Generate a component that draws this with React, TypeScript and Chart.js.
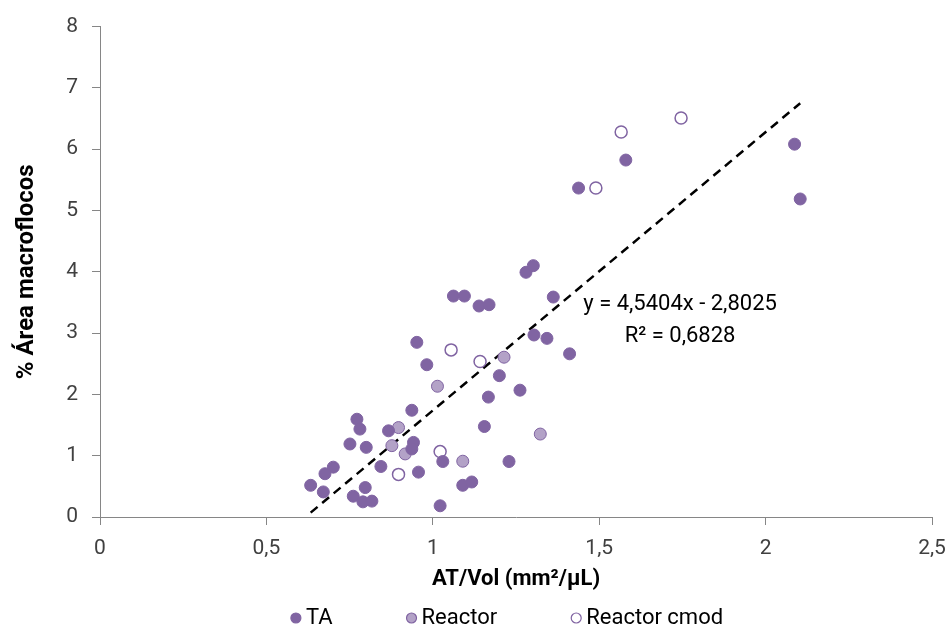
import React, { useEffect, useRef } from "react";
import { Chart, registerables } from "chart.js";
Chart.register(...registerables);

const taX = [1.062,1.095,1.139,1.169,1.362,1.304,1.343,1.411,0.952,0.982,1.200,1.262,1.167,0.937,0.772,0.781,1.155,0.867,0.751,0.800,0.942,0.937,1.030,1.229,0.701,0.676,0.844,0.957,0.633,0.671,0.797,0.761,0.790,0.817,1.090,1.117,1.022,1.280,1.302,1.438,1.580,2.087,2.104];
const taY = [3.604,3.604,3.442,3.463,3.588,2.969,2.914,2.662,2.849,2.484,2.306,2.069,1.956,1.741,1.595,1.434,1.476,1.406,1.191,1.136,1.217,1.110,0.905,0.905,0.813,0.706,0.824,0.732,0.517,0.409,0.480,0.339,0.247,0.259,0.517,0.571,0.183,3.992,4.100,5.366,5.823,6.082,5.188];
const reactorX = [1.214,1.014,0.897,1.323,0.877,0.917,1.090];
const reactorY = [2.607,2.133,1.459,1.353,1.164,1.029,0.910];
const cmodX = [1.055,1.142,1.022,0.897,1.566,1.746,1.490];
const cmodY = [2.726,2.537,1.067,0.695,6.282,6.508,5.366];
const trendSlope = 4.5404;
const trendIntercept = -2.8025;
const allX = [...taX, ...reactorX, ...cmodX];
const trendRange = [Math.min(...allX), Math.max(...allX)];
const seriesNames = ["TA", "Reactor", "Reactor cmod"];
const eqLabel = "y = 4,5404x - 2,8025";
const r2Label = "R² = 0,6828";

const FONT = "'Roboto', sans-serif";
const PURPLE = "#8064A2";
const LIGHT = "#B3A2C7";
const fills = [PURPLE, LIGHT, "#FFFFFF"];

const toPts = (xs: number[], ys: number[]) => xs.map((x, i) => ({ x, y: ys[i] }));

export default function App() {
  const ref = useRef<HTMLCanvasElement>(null);
  useEffect(() => {
    document.body.style.margin = "0";
    const eqPlugin = {
      id: "eq",
      afterDatasetsDraw(chart: any) {
        const { ctx, scales } = chart;
        const cx = scales.x.getPixelForValue(1.743);
        const cy = scales.y.getPixelForValue(3.466);
        ctx.save();
        ctx.font = `22px ${FONT}`;
        ctx.fillStyle = "#000";
        ctx.textAlign = "center";
        ctx.textBaseline = "middle";
        ctx.fillText(eqLabel, cx, cy);
        ctx.fillText(r2Label, cx, cy + 32);
        ctx.restore();
      },
    };
    const legendPlugin = {
      id: "customLegend",
      afterDraw(chart: any) {
        const { ctx, chartArea } = chart;
        ctx.save();
        ctx.font = `22px ${FONT}`;
        const r = 5;
        const textGap = 10;
        const itemGap = 74;
        const widths = seriesNames.map((n) => ctx.measureText(n).width);
        const total = widths.reduce((a, w) => a + r + textGap + w, 0) + itemGap * (seriesNames.length - 1);
        let x = (chartArea.left + chartArea.right) / 2 - 9 - total / 2;
        const y = 618;
        seriesNames.forEach((n, i) => {
          ctx.beginPath();
          ctx.arc(x + r, y, r, 0, Math.PI * 2);
          ctx.fillStyle = fills[i];
          ctx.fill();
          ctx.lineWidth = 1.2;
          ctx.strokeStyle = PURPLE;
          ctx.stroke();
          ctx.fillStyle = "#000";
          ctx.textAlign = "left";
          ctx.textBaseline = "middle";
          ctx.fillText(n, x + r + textGap, y);
          x += r + textGap + widths[i] + itemGap;
        });
        ctx.restore();
      },
    };
    const chart = new Chart(ref.current!, {
      type: "scatter",
      data: {
        datasets: [
          {
            label: seriesNames[0],
            data: toPts(taX, taY),
            backgroundColor: PURPLE,
            borderColor: PURPLE,
            borderWidth: 1,
            pointRadius: 6,
          },
          {
            label: seriesNames[1],
            data: toPts(reactorX, reactorY),
            backgroundColor: LIGHT,
            borderColor: PURPLE,
            borderWidth: 1,
            pointRadius: 6,
          },
          {
            label: seriesNames[2],
            data: toPts(cmodX, cmodY),
            backgroundColor: "#FFFFFF",
            borderColor: PURPLE,
            borderWidth: 1.5,
            pointRadius: 6,
          },
          {
            label: "trend",
            type: "line",
            data: trendRange.map((x) => ({ x, y: trendSlope * x + trendIntercept })),
            borderColor: "#000",
            borderWidth: 2.5,
            borderDash: [9, 6],
            pointRadius: 0,
            fill: false,
          } as any,
        ],
      },
      options: {
        animation: false,
        responsive: false,
        layout: { padding: { top: 14, right: 19, left: 0, bottom: 34 } },
        plugins: {
          tooltip: { enabled: false },
          legend: { display: false },
        },
        scales: {
          x: {
            type: "linear",
            min: 0,
            max: 2.5,
            afterFit: (s: any) => { s.height = 80; s.paddingRight = 0; s.paddingLeft = 0; },
            ticks: {
              stepSize: 0.5,
              color: "#404040",
              padding: 11,
              font: { family: FONT, size: 21 },
              callback: (v: any) => String(v).replace(".", ","),
            },
            grid: { drawOnChartArea: false, tickLength: 8, color: "#868686" },
            border: { color: "#868686", width: 1 },
            title: {
              display: true,
              text: "AT/Vol (mm²/µL)",
              color: "#000",
              font: { family: FONT, size: 22, weight: "bold" },
              padding: { top: 4, bottom: 4 },
            },
          },
          y: {
            min: 0,
            max: 8,
            afterFit: (s: any) => { s.width = 100; },
            ticks: {
              stepSize: 1,
              color: "#404040",
              padding: 14,
              font: { family: FONT, size: 21 },
            },
            grid: { drawOnChartArea: false, tickLength: 8, color: "#868686" },
            border: { color: "#868686", width: 1 },
            title: {
              display: true,
              text: "% Área macroflocos",
              color: "#000",
              font: { family: FONT, size: 24, weight: "bold" },
              padding: { top: 13, bottom: 0 },
            },
          },
        },
      } as any,
      plugins: [eqPlugin, legendPlugin],
    });
    return () => chart.destroy();
  }, []);
  return <canvas ref={ref} width={951} height={631} style={{ display: "block" }} />;
}
